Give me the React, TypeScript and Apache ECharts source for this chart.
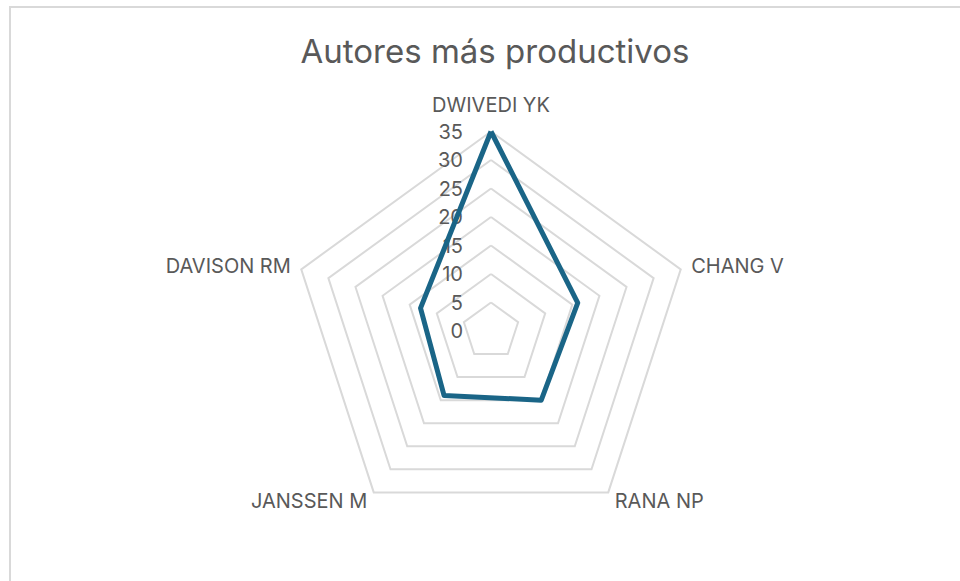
import React, { useEffect, useRef } from "react";
import * as echarts from "echarts";

const authors = ["DWIVEDI YK", "CHANG V", "RANA NP", "JANSSEN M", "DAVISON RM"];
const documents = [35, 16, 15, 14, 13];
const axisMax = 35;
const titleText = "Autores más productivos";

export default function App() {
  const ref = useRef<HTMLDivElement>(null);
  useEffect(() => {
    if (!ref.current) return;
    const chart = echarts.init(ref.current, undefined, { renderer: "svg" });
    const font = "Inter, 'Open Sans', sans-serif";
    // ECharts radar goes counter-clockwise; reorder so that the authors run clockwise
    const order = [0, ...authors.map((_, i) => i).slice(1).reverse()];
    chart.setOption({
      animation: false,
      backgroundColor: "#ffffff",
      textStyle: { fontFamily: font },
      title: {
        text: titleText,
        left: 490,
        textAlign: "center",
        top: 29,
        textStyle: { color: "#595959", fontSize: 33, fontWeight: "normal", fontFamily: font },
      },
      graphic: [
        {
          type: "rect",
          shape: { x: 10, y: 7, width: 1000, height: 700 },
          style: { fill: "none", stroke: "#d9d9d9", lineWidth: 2 },
          silent: true,
        },
      ],
      radar: {
        center: [491, 331],
        radius: 199.5,
        shape: "polygon",
        splitNumber: 7,
        startAngle: 90,
        nameGap: 11,
        axisName: {
          color: "#595959",
          fontSize: 20,
          fontFamily: font,
          formatter: (name: string) => (name === authors[0] ? "{top|" + name + "}" : name),
          rich: { top: { color: "#595959", fontSize: 20, fontFamily: font, padding: [0, 0, 6, 0] } },
        },
        indicator: order.map((idx, i) =>
          i === 0
            ? {
                name: authors[idx],
                max: axisMax,
                min: 0,
                axisLabel: { show: true, color: "#595959", fontSize: 20, fontFamily: font, margin: 28 },
              }
            : { name: authors[idx], max: axisMax, min: 0 }
        ),
        axisLine: { show: false },
        axisTick: { show: false },
        axisLabel: { show: false },
        splitArea: { show: false },
        splitLine: { lineStyle: { color: "#d9d9d9", width: 2 } },
      },
      series: [
        {
          type: "radar",
          symbol: "none",
          lineStyle: { color: "#1a6587", width: 5 },
          data: [{ value: order.map((idx) => documents[idx]), name: "Documentos" }],
        },
      ],
    });
    return () => chart.dispose();
  }, []);
  return (
    <div
      ref={ref}
      style={{ position: "absolute", left: 0, top: 0, width: 960, height: 581 }}
    />
  );
}
